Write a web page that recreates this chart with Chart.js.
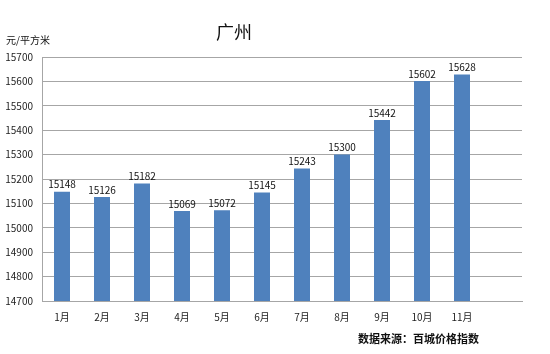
<!DOCTYPE html>
<html lang="zh">
  <head>
    <meta charset="UTF-8" />
    <title>广州</title>
    <script src="https://cdn.jsdelivr.net/npm/chart.js"></script>
    <style>
      body {
        margin: 0;
        padding: 0;
        background: #fff;
      }
      .wrap {
        width: 550px;
        height: 354px;
      }
    </style>
  </head>
  <body>
    <div class="wrap"><canvas id="chart"></canvas></div>

    <script>
      const months = ['1月', '2月', '3月', '4月', '5月', '6月', '7月', '8月', '9月', '10月', '11月', ''];
      const prices = [15148, 15126, 15182, 15069, 15072, 15145, 15243, 15300, 15442, 15602, 15628, null];

      const fontFamily = '"Noto Sans CJK SC", "DejaVu Sans", sans-serif';

      // titles and value labels drawn by hand, the title sits off-centre
      const textPlugin = {
        id: 'texts',
        afterDatasetsDraw(chart) {
          const ctx = chart.ctx;
          ctx.save();
          ctx.fillStyle = '#111';
          ctx.textAlign = 'center';
          ctx.textBaseline = 'bottom';
          ctx.font = '10px ' + fontFamily;
          chart.getDatasetMeta(0).data.forEach((bar, i) => {
            if (prices[i] == null) return;
            ctx.fillText(prices[i], bar.x, bar.y - 2);
          });

          ctx.textBaseline = 'middle';
          ctx.font = '18px ' + fontFamily;
          ctx.fillText('广州', 234, 32);

          ctx.textAlign = 'left';
          ctx.font = '10px ' + fontFamily;
          ctx.fillText('元/平方米', 6, 40);

          ctx.font = 'bold 11px ' + fontFamily;
          ctx.fillText('数据来源：百城价格指数', 358, 339);
          ctx.restore();
        },
      };

      new Chart(document.getElementById('chart'), {
        type: 'bar',
        data: {
          labels: months,
          datasets: [
            {
              data: prices,
              backgroundColor: '#4f81bd',
              categoryPercentage: 1,
              barPercentage: 0.4,
            },
          ],
        },
        options: {
          responsive: true,
          maintainAspectRatio: false,
          animation: false,
          layout: { padding: { top: 57, right: 28, left: 0, bottom: 0 } },
          plugins: {
            legend: { display: false },
            tooltip: { enabled: false },
          },
          scales: {
            x: {
              grid: { display: false, drawTicks: false },
              border: { color: '#a6a6a6' },
              ticks: {
                color: '#222',
                font: { size: 10, family: fontFamily },
                padding: 10,
              },
              afterFit: (s) => {
                s.height = 53;
              },
            },
            y: {
              min: 14700,
              max: 15700,
              grid: { color: '#a6a6a6', drawTicks: false },
              border: { color: '#a6a6a6' },
              ticks: {
                stepSize: 100,
                color: '#222',
                font: { size: 10, family: fontFamily },
                padding: 9,
                callback: (v) => String(v),
              },
              afterFit: (s) => {
                s.width = 42;
              },
            },
          },
        },
        plugins: [textPlugin],
      });
    </script>
  </body>
</html>
